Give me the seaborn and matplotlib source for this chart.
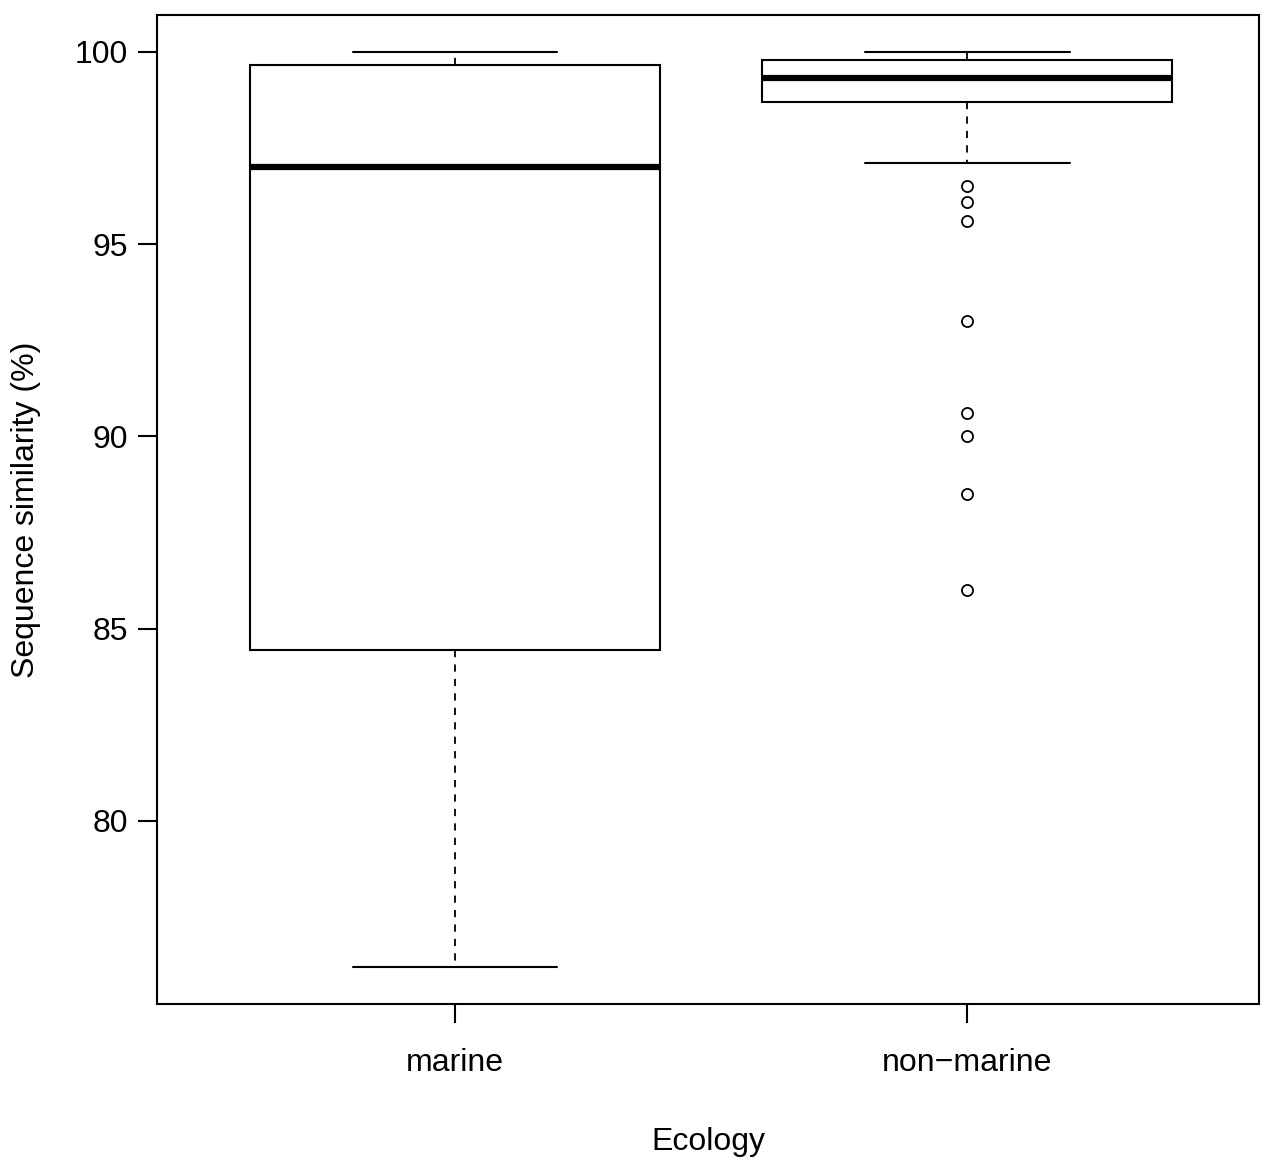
import pandas as pd
import numpy as np
import matplotlib
matplotlib.use("Agg")
import matplotlib.pyplot as plt
import seaborn as sns

# Values (sequence similarity, %)
marine_values = [76.2, 84.45, 97.0, 99.65, 100.0]
nonmarine_values = [
    86.0, 88.5, 90.0, 90.6, 93.0, 95.6, 96.1, 96.5,      # outliers
    97.1,                                                # lower whisker
    98.7,                                                # lower hinge
    98.8, 98.9, 99.0, 99.0, 99.1, 99.2, 99.2, 99.3,
    99.32,                                               # median
    99.4, 99.5, 99.5, 99.6, 99.6, 99.7, 99.7, 99.8,
    99.8,                                                # upper hinge
    99.8, 99.9, 99.9, 99.9, 100.0, 100.0, 100.0, 100.0,
    100.0,                                               # upper whisker
]
categories = ["marine", "non\u2212marine"]
y_ticks = [80, 85, 90, 95, 100]

dataframe = pd.DataFrame({
    "Ecology": [categories[0]] * len(marine_values) + [categories[1]] * len(nonmarine_values),
    "similarity": marine_values + nonmarine_values,
})

sns.set_style("ticks")
plt.rcParams["font.family"] = ["Liberation Sans", "DejaVu Sans"]
plt.rcParams["text.color"] = "black"
plt.rcParams["axes.labelcolor"] = "black"

fig = plt.figure(figsize=(12.69, 11.6), dpi=100)
ax = fig.add_axes([0.1237, 0.1345, 0.8685, 0.8526])

sns.boxplot(
    data=dataframe, x="Ecology", y="similarity", order=categories,
    color="white", linecolor="black", linewidth=1.5, width=0.8, whis=1.5,
    medianprops={"linewidth": 4.5, "color": "black"},
    whiskerprops={"linestyle": (0, (4, 4)), "linewidth": 1.3, "color": "black"},
    capprops={"linewidth": 1.5, "color": "black"},
    flierprops={"marker": "o", "markerfacecolor": "none", "markeredgecolor": "black",
                "markersize": 8, "markeredgewidth": 1.3},
    ax=ax,
)

ax.set_xlim(-0.582, 1.57)
ax.set_ylim(75.24, 100.96)
ax.set_yticks(y_ticks)
ax.set_yticklabels([str(t) for t in y_ticks])
for side in ["top", "right", "bottom", "left"]:
    ax.spines[side].set_visible(True)
    ax.spines[side].set_linewidth(1.5)
    ax.spines[side].set_color("black")
ax.tick_params(axis="both", direction="out", length=14, width=1.5, labelsize=23, pad=7, colors="black")
ax.tick_params(axis="x", pad=18)
ax.set_xlabel("Ecology", fontsize=23, labelpad=35)
ax.set_ylabel("Sequence similarity (%)", fontsize=23, labelpad=24)

fig.savefig("out.png", dpi=100, facecolor="white")
